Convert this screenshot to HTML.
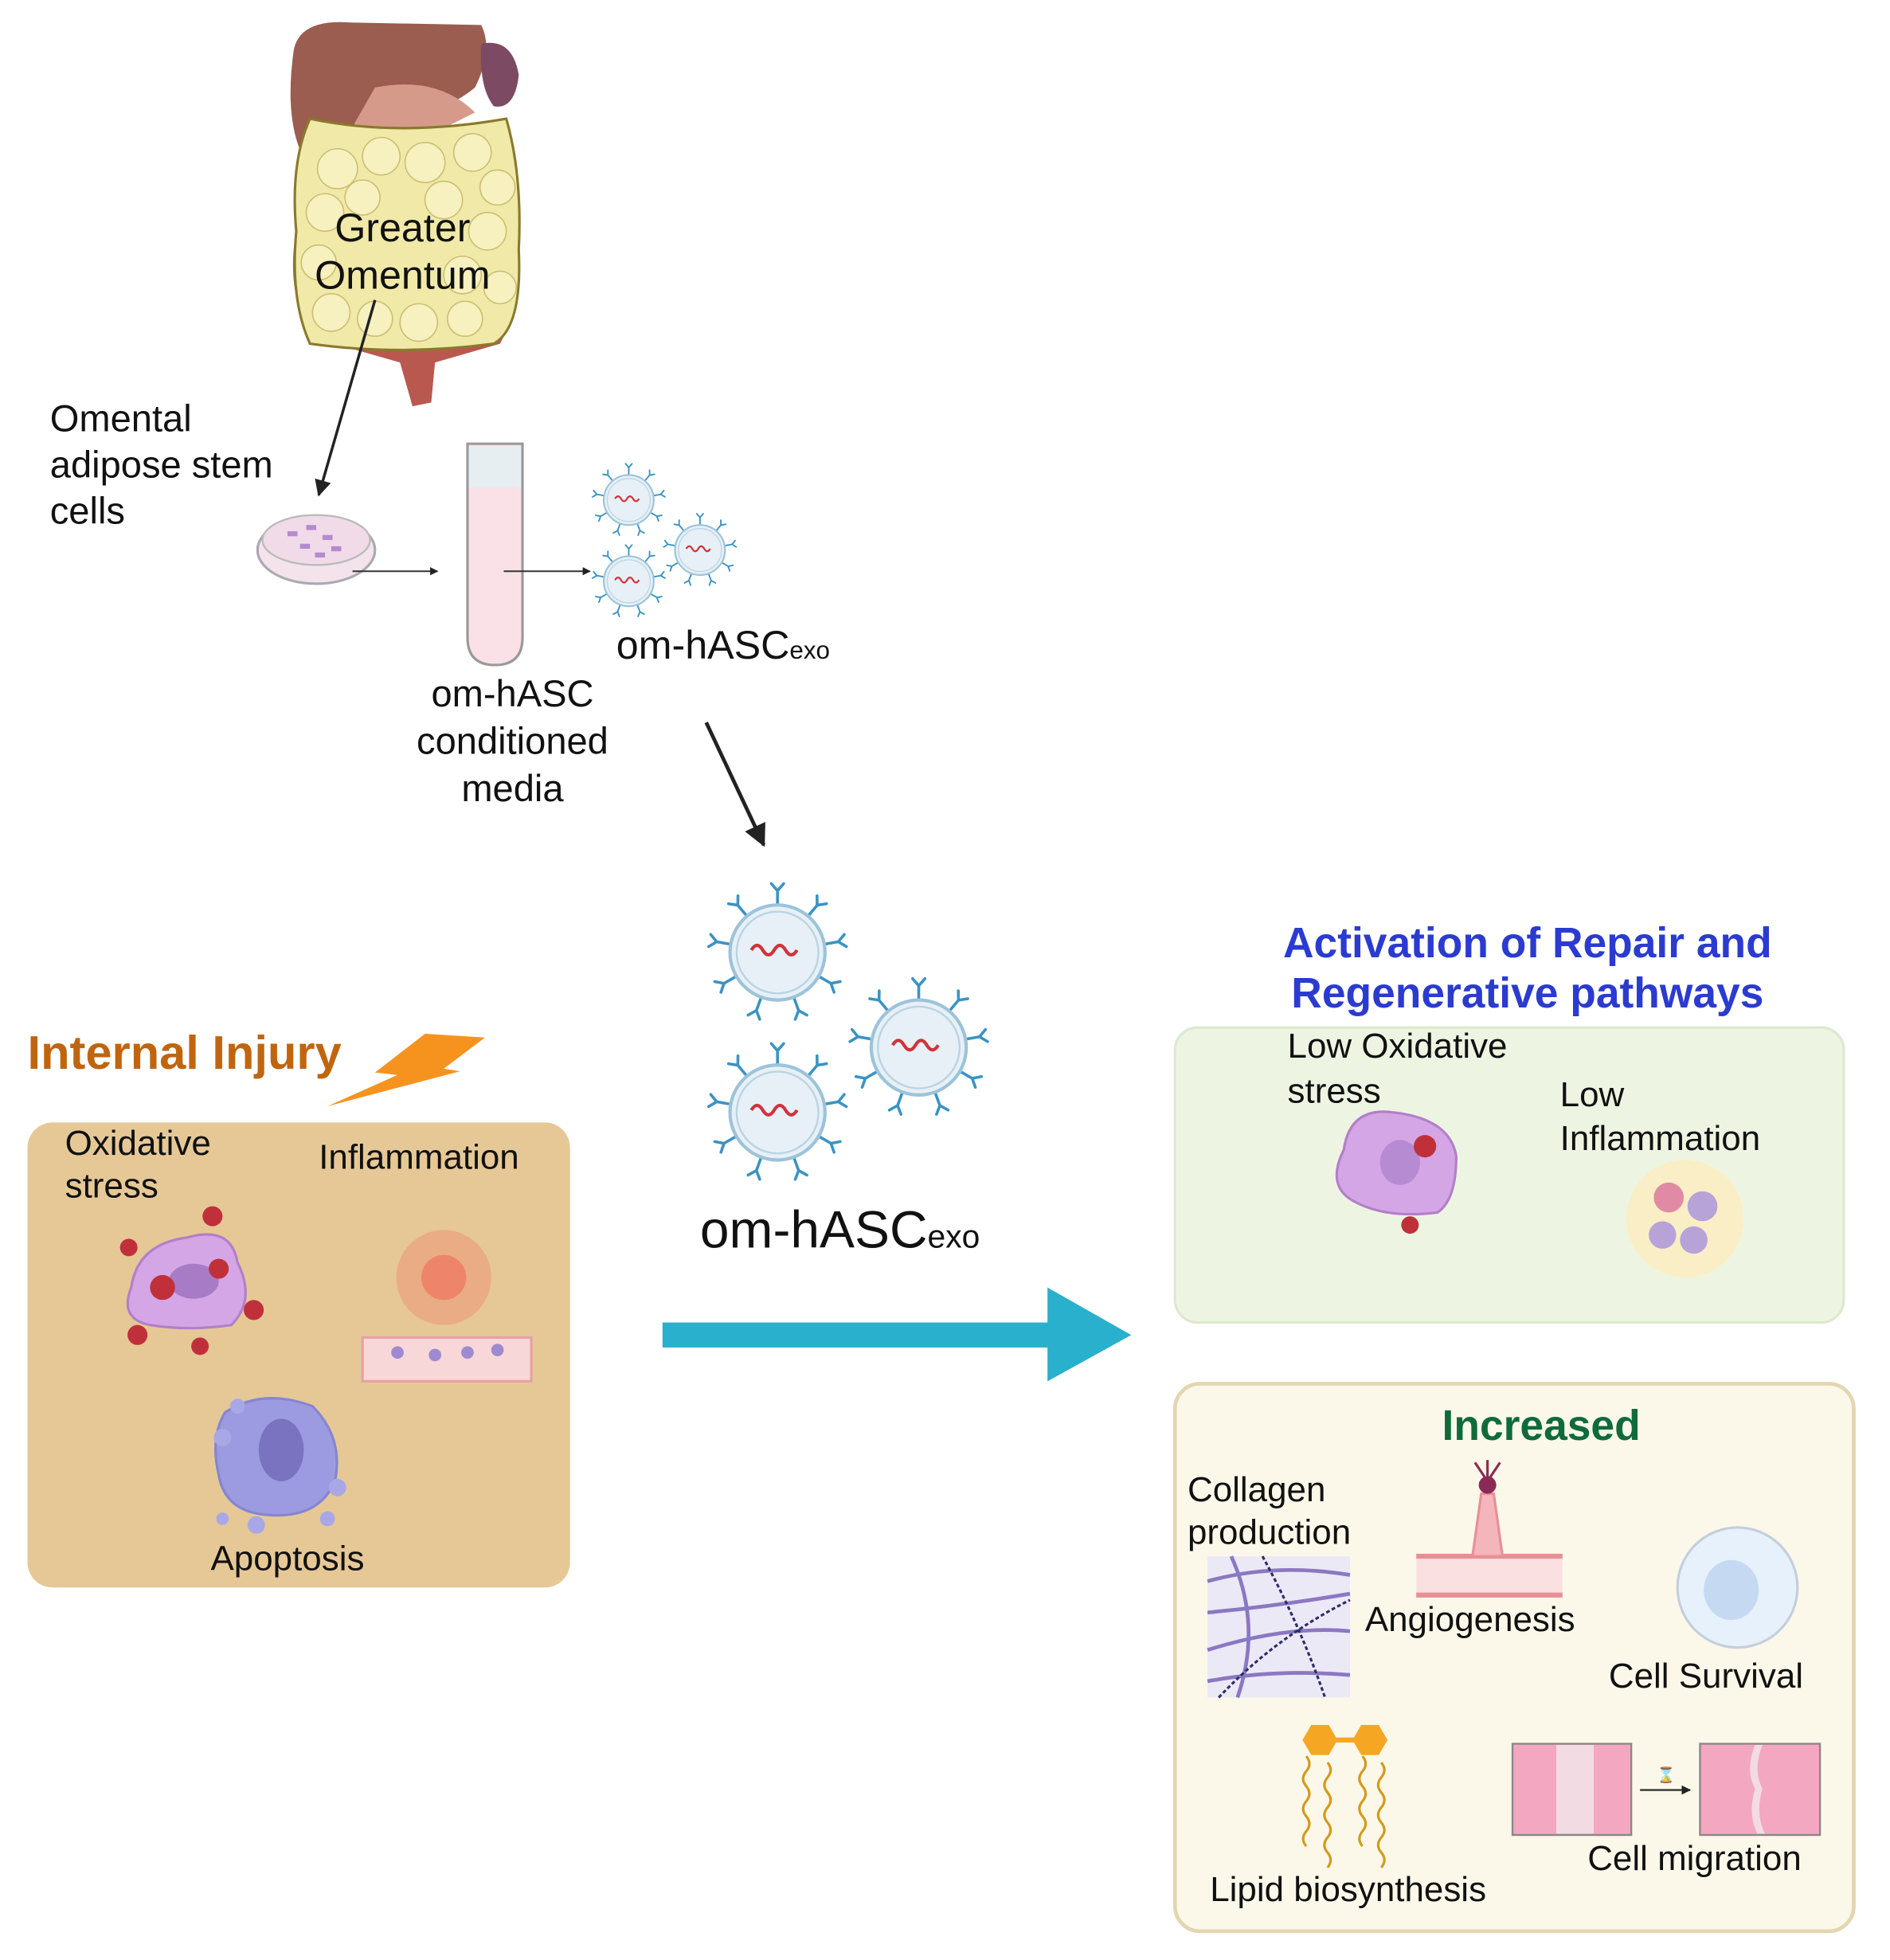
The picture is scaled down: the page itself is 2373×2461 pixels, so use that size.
<!DOCTYPE html>
<html><head><meta charset="utf-8"><style>
html,body{margin:0;padding:0;background:#fff;}
svg{display:block;}
text{font-family:"Liberation Sans",sans-serif;}
</style></head><body>
<svg width="2373" height="2461" viewBox="0 0 1512 1568" preserveAspectRatio="none" xmlns="http://www.w3.org/2000/svg">
<defs>
<g id="exo">
  <g stroke="#3a93c4" stroke-width="0.06" fill="none" stroke-linecap="round">
    <g id="sp"><line x1="0" y1="-0.95" x2="0" y2="-1.3"/><line x1="0" y1="-1.3" x2="-0.13" y2="-1.45"/><line x1="0" y1="-1.3" x2="0.13" y2="-1.45"/></g>
    <use href="#sp" transform="rotate(40)"/><use href="#sp" transform="rotate(80)"/><use href="#sp" transform="rotate(120)"/>
    <use href="#sp" transform="rotate(160)"/><use href="#sp" transform="rotate(200)"/><use href="#sp" transform="rotate(240)"/>
    <use href="#sp" transform="rotate(280)"/><use href="#sp" transform="rotate(320)"/>
  </g>
  <circle r="1" fill="#e7f0f6" stroke="#9cc3d9" stroke-width="0.07"/>
  <circle r="0.86" fill="none" stroke="#b9d4e4" stroke-width="0.04"/>
  <path d="M-0.55,-0.05 q0.12,-0.2 0.24,0 t0.24,0 t0.24,0 t0.24,0" fill="none" stroke="#d2323c" stroke-width="0.07"/>
</g>
<marker id="ah" viewBox="0 0 10 10" refX="9" refY="5" markerWidth="6" markerHeight="6" orient="auto"><path d="M0,0L10,5L0,10z" fill="#222"/></marker>
<marker id="ah2" viewBox="0 0 10 10" refX="9" refY="5" markerWidth="5" markerHeight="5" orient="auto"><path d="M0,0L10,5L0,10z" fill="#222"/></marker>
</defs>

<!-- organs -->
<path d="M235,40 Q240,15 280,18 L385,20 Q395,40 380,70 Q350,95 300,95 Q260,110 240,120 Q228,90 235,40z" fill="#9a5d4f"/>
<path d="M385,35 Q410,30 415,60 Q412,88 395,85 Q383,70 385,35z" fill="#7d4a63"/>
<path d="M300,70 Q350,60 380,90 L340,110 L280,105z" fill="#d69a8a"/>
<path d="M240,170 Q225,230 250,270 L320,290 L330,325 L345,322 L348,290 L400,275 Q425,230 410,160z" fill="#b9584f"/>
<path d="M248,95 Q320,110 405,95 Q418,140 415,200 Q418,262 395,275 Q320,285 248,275 Q232,240 237,185 Q232,130 248,95z" fill="#f0e9a8" stroke="#8a7a2c" stroke-width="2"/>
<g fill="#f7f0bf" stroke="#c9bf70" stroke-width="1">
<circle cx="270" cy="135" r="16"/><circle cx="305" cy="125" r="15"/><circle cx="340" cy="130" r="16"/><circle cx="378" cy="122" r="15"/><circle cx="398" cy="150" r="14"/>
<circle cx="260" cy="170" r="15"/><circle cx="290" cy="158" r="14"/><circle cx="355" cy="160" r="15"/><circle cx="390" cy="185" r="15"/>
<circle cx="255" cy="210" r="14"/><circle cx="370" cy="220" r="15"/><circle cx="400" cy="230" r="13"/>
<circle cx="265" cy="250" r="15"/><circle cx="300" cy="255" r="14"/><circle cx="335" cy="258" r="15"/><circle cx="372" cy="255" r="14"/>
</g>
<text x="322" y="193" font-size="32" text-anchor="middle" fill="#111">Greater</text>
<text x="322" y="231" font-size="32" text-anchor="middle" fill="#111">Omentum</text>
<line x1="300" y1="240" x2="255" y2="396" stroke="#222" stroke-width="2.2" marker-end="url(#ah)"/>

<text font-size="30" fill="#111"><tspan x="40" y="345">Omental</tspan><tspan x="40" y="382">adipose stem</tspan><tspan x="40" y="419">cells</tspan></text>

<ellipse cx="253" cy="440" rx="47" ry="27" fill="#f4e3ea" stroke="#a9a9b3" stroke-width="2"/>
<ellipse cx="253" cy="432" rx="43" ry="20" fill="#f1dbe8" stroke="#bbb" stroke-width="1.5"/>
<g fill="#b58ad0"><rect x="230" y="425" width="8" height="4"/><rect x="245" y="420" width="8" height="4"/><rect x="258" y="428" width="8" height="4"/><rect x="240" y="435" width="8" height="4"/><rect x="265" y="437" width="8" height="4"/><rect x="252" y="442" width="8" height="4"/></g>
<line x1="282" y1="457" x2="350" y2="457" stroke="#333" stroke-width="1.3" marker-end="url(#ah2)"/>

<path d="M374,355 L418,355 L418,510 Q418,532 396,532 Q374,532 374,510z" fill="#f9e1e7" stroke="#999" stroke-width="2"/>
<rect x="375" y="357" width="42" height="33" fill="#e6eef2"/>
<line x1="403" y1="457" x2="472" y2="457" stroke="#333" stroke-width="1.3" marker-end="url(#ah2)"/>

<use href="#exo" transform="translate(503,400) scale(20)"/>
<use href="#exo" transform="translate(560,440) scale(20)"/>
<use href="#exo" transform="translate(503,465) scale(20)"/>
<text x="493" y="527" font-size="32" fill="#111">om-hASC<tspan font-size="20" dy="0">exo</tspan></text>
<text font-size="30" fill="#111" text-anchor="middle"><tspan x="410" y="565">om-hASC</tspan><tspan x="410" y="603">conditioned</tspan><tspan x="410" y="641">media</tspan></text>
<line x1="565" y1="578" x2="611" y2="676" stroke="#222" stroke-width="3" marker-end="url(#ah)"/>

<use href="#exo" transform="translate(622,762) scale(38)"/>
<use href="#exo" transform="translate(735,838) scale(38)"/>
<use href="#exo" transform="translate(622,890) scale(38)"/>
<text x="560" y="998" font-size="42" fill="#111">om-hASC<tspan font-size="26">exo</tspan></text>

<!-- cyan arrow -->
<rect x="530" y="1058" width="312" height="20" fill="#28b0cc"/>
<path d="M838,1030 L905,1068 L838,1105z" fill="#28b0cc"/>

<!-- left box -->
<text x="22" y="855" font-size="38" font-weight="bold" fill="#c0650f">Internal Injury</text>
<path d="M340,827 L388,830 L355,855 L368,857 L262,885 L318,860 L300,858z" fill="#f5931e"/>
<rect x="22" y="898" width="434" height="372" rx="20" fill="#e6c896"/>
<text font-size="28" fill="#111"><tspan x="52" y="924">Oxidative</tspan><tspan x="52" y="958">stress</tspan></text>
<text x="255" y="935" font-size="28" fill="#111">Inflammation</text>
<path d="M105,1030 Q110,995 150,990 Q185,980 190,1010 Q205,1040 185,1060 Q150,1065 120,1060 Q95,1055 105,1030z" fill="#d5a6e6" stroke="#b27fc8" stroke-width="2"/>
<ellipse cx="155" cy="1025" rx="20" ry="14" fill="#a87bc6"/>
<g fill="#c0303a"><circle cx="170" cy="973" r="8"/><circle cx="103" cy="998" r="7"/><circle cx="130" cy="1030" r="10"/><circle cx="175" cy="1015" r="8"/><circle cx="203" cy="1048" r="8"/><circle cx="110" cy="1068" r="8"/><circle cx="160" cy="1077" r="7"/></g>
<circle cx="355" cy="1022" r="38" fill="#f08a6e" opacity="0.45"/>
<circle cx="355" cy="1022" r="18" fill="#f06a5a" opacity="0.6"/>
<rect x="290" y="1070" width="135" height="35" fill="#f8d7d8" stroke="#e8a0a5" stroke-width="2"/>
<g fill="#9d8ad0"><circle cx="318" cy="1082" r="5"/><circle cx="348" cy="1084" r="5"/><circle cx="374" cy="1082" r="5"/><circle cx="398" cy="1080" r="5"/></g>
<path d="M180,1130 Q210,1110 250,1125 Q275,1150 268,1185 Q255,1215 215,1212 Q180,1210 175,1180 Q168,1150 180,1130z" fill="#9c9ae0" stroke="#8586cf" stroke-width="2"/>
<ellipse cx="225" cy="1160" rx="18" ry="25" fill="#7a74c0"/>
<g fill="#a9a8e6"><circle cx="178" cy="1150" r="7"/><circle cx="270" cy="1190" r="7"/><circle cx="190" cy="1125" r="6"/><circle cx="205" cy="1220" r="7"/><circle cx="262" cy="1215" r="6"/><circle cx="178" cy="1215" r="5"/></g>
<text x="230" y="1256" font-size="28" fill="#111" text-anchor="middle">Apoptosis</text>

<!-- right heading -->
<text font-size="34" font-weight="bold" fill="#2b3bd0" text-anchor="middle"><tspan x="1222" y="766">Activation of Repair and</tspan><tspan x="1222" y="806">Regenerative pathways</tspan></text>

<rect x="940" y="822" width="535" height="236" rx="18" fill="#edf5e2" stroke="#dde9cf" stroke-width="2"/>
<text font-size="28" fill="#111"><tspan x="1030" y="846">Low Oxidative</tspan><tspan x="1030" y="882">stress</tspan></text>
<text font-size="28" fill="#111"><tspan x="1248" y="885">Low</tspan><tspan x="1248" y="920">Inflammation</tspan></text>
<path d="M1075,920 Q1080,885 1115,890 Q1160,895 1165,925 Q1165,960 1150,970 Q1110,975 1085,962 Q1060,950 1075,920z" fill="#d5a6e6" stroke="#b27fc8" stroke-width="2"/>
<ellipse cx="1120" cy="930" rx="16" ry="18" fill="#b68bd2"/>
<circle cx="1140" cy="917" r="9" fill="#c0303a"/><circle cx="1128" cy="980" r="7" fill="#c0303a"/>
<circle cx="1348" cy="975" r="47" fill="#faeec6"/>
<g fill="#b8a3d9"><circle cx="1335" cy="958" r="12" fill="#e08aa3"/><circle cx="1362" cy="965" r="12"/><circle cx="1330" cy="988" r="11"/><circle cx="1355" cy="992" r="11"/></g>

<rect x="940" y="1107" width="543" height="438" rx="20" fill="#fbf8ea" stroke="#e3d6b0" stroke-width="3"/>
<text x="1233" y="1152" font-size="34" font-weight="bold" fill="#0f6b3a" text-anchor="middle">Increased</text>
<text font-size="28" fill="#111"><tspan x="950" y="1201">Collagen</tspan><tspan x="950" y="1235">production</tspan></text>
<rect x="966" y="1245" width="114" height="113" fill="#ece9f6"/>
<g stroke="#8a78c2" stroke-width="3" fill="none"><path d="M966,1265 Q1020,1250 1080,1260"/><path d="M966,1290 Q1020,1285 1080,1275"/><path d="M966,1320 Q1030,1300 1080,1305"/><path d="M966,1345 Q1020,1335 1080,1340"/><path d="M985,1245 Q1010,1300 990,1358"/></g>
<g stroke="#2d2d6a" stroke-width="2" fill="none" stroke-dasharray="3 2"><path d="M1010,1245 Q1040,1300 1060,1358"/><path d="M975,1358 Q1020,1310 1080,1280"/></g>
<path d="M1133,1245 L1250,1245 L1250,1278 L1133,1278z" fill="#fae0e0"/>
<path d="M1133,1245 L1250,1245" stroke="#e88f96" stroke-width="4"/><path d="M1133,1276 L1250,1276" stroke="#e88f96" stroke-width="4"/>
<path d="M1178,1245 L1185,1195 L1195,1195 L1202,1245z" fill="#f4b5bb" stroke="#e88f96" stroke-width="2"/>
<circle cx="1190" cy="1188" r="7" fill="#8a2a55"/>
<g stroke="#8a2a55" stroke-width="2"><line x1="1190" y1="1185" x2="1180" y2="1170"/><line x1="1190" y1="1185" x2="1190" y2="1168"/><line x1="1190" y1="1185" x2="1200" y2="1170"/></g>
<text x="1092" y="1305" font-size="28" fill="#111">Angiogenesis</text>
<circle cx="1390" cy="1270" r="48" fill="#e7f1fb" stroke="#c4cfdc" stroke-width="2"/>
<ellipse cx="1385" cy="1272" rx="22" ry="24" fill="#c5d9f2"/>
<text x="1287" y="1350" font-size="28" fill="#111">Cell Survival</text>
<path d="M1042,1392 l7,-12 h14 l7,12 l-7,12 h-14z M1082,1392 l7,-12 h14 l7,12 l-7,12 h-14z" fill="#f5a623"/>
<rect x="1068" y="1390" width="16" height="4" fill="#f5a623"/>
<g stroke="#d59a1a" stroke-width="2" fill="none"><path d="M1045,1405 q5,6 0,12 t0,12 t0,12 t0,12 t0,12 t0,12"/><path d="M1062,1410 q5,6 0,12 t0,12 t0,12 t0,12 t0,12 t0,12 t0,12"/><path d="M1090,1405 q5,6 0,12 t0,12 t0,12 t0,12 t0,12 t0,12"/><path d="M1105,1410 q5,6 0,12 t0,12 t0,12 t0,12 t0,12 t0,12 t0,12"/></g>
<text x="968" y="1521" font-size="28" fill="#111">Lipid biosynthesis</text>
<rect x="1210" y="1395" width="95" height="73" fill="#f4a7c0" stroke="#888" stroke-width="1.5"/>
<rect x="1245" y="1396" width="30" height="71" fill="#f3dbe3"/>
<rect x="1360" y="1395" width="96" height="73" fill="#f4a7c0" stroke="#888" stroke-width="1.5"/>
<path d="M1410,1396 q-8,20 0,35 q-6,20 2,36 l-6,0 q-8,-15 -2,-36 q-8,-15 0,-35z" fill="#f3dbe3"/>
<line x1="1312" y1="1432" x2="1352" y2="1432" stroke="#333" stroke-width="1.5" marker-end="url(#ah2)"/>
<text x="1333" y="1424" font-size="12" fill="#555" text-anchor="middle">⌛</text>
<text x="1270" y="1496" font-size="28" fill="#111">Cell migration</text>
</svg>
</body></html>
